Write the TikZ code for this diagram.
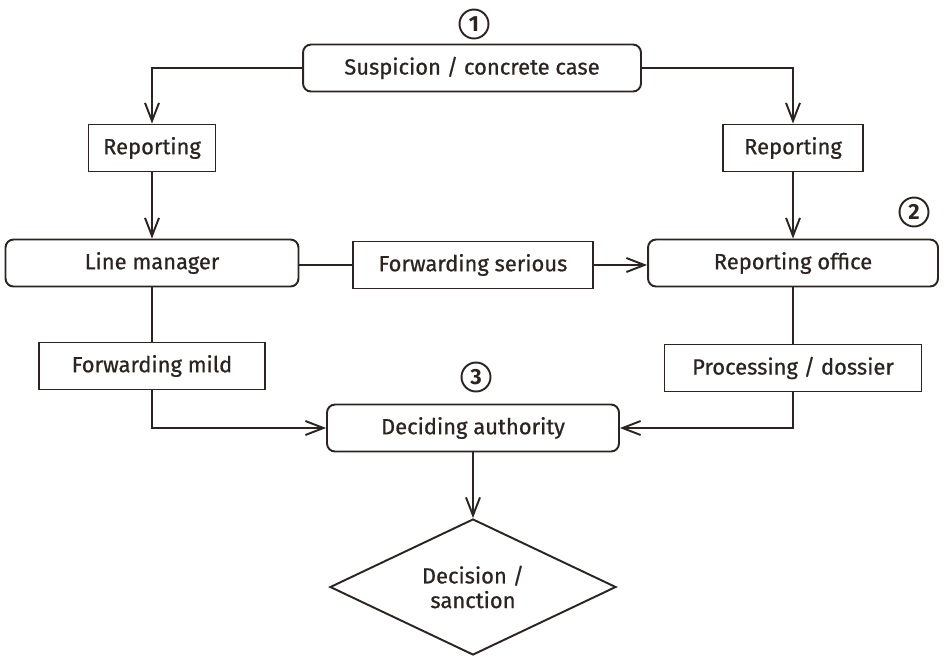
\documentclass[tikz,border=0pt]{standalone}
\usepackage{fontspec}
\setmainfont{Fira Sans}[UprightFeatures={FakeBold=0.7}]
\usepackage{tikz}
\usetikzlibrary{shapes.geometric,arrows.meta}
\definecolor{ink}{RGB}{43,36,33}

\begin{document}
\begin{tikzpicture}[x=0.02cm,y=-0.02cm,
	every node/.style={font=\fontsize{12.5}{14}\selectfont,text=ink},
	box/.style={draw=ink,line width=1.1pt,inner sep=0pt,minimum height=0.94cm},
	rbox/.style={box,rounded corners=0.16cm},
	num/.style={draw=ink,circle,line width=1.1pt,inner sep=0pt,minimum size=0.58cm,font=\fontsize{12.5}{14}\selectfont\bfseries},
	dia/.style={draw=ink,diamond,line width=1.1pt,inner sep=0pt,aspect=2.1,minimum width=5.72cm,minimum height=2.72cm,align=center},
	lin/.style={draw=ink,line width=1.1pt},
	arr/.style={lin,-{Straight Barb[length=0.36cm,width=0.28cm]}}]
				\useasboundingbox (0,0) rectangle (944,657);
				
				\node[num] (n1) at (474,24) {1};
				\node[rbox,minimum width=6.76cm] (susp) at (472,68) {Suspicion / concrete case};
				
				\node[box,minimum width=2.54cm] (repL) at (152,148) {Reporting};
				\node[box,minimum width=2.8cm] (repR) at (793,148) {Reporting};
				
				\node[rbox,minimum width=5.86cm] (lineman) at (152,263) {Line manager};
				\node[box,minimum width=4.8cm] (fwdser) at (473,265) {Forwarding serious};
				\node[rbox,minimum width=5.8cm] (office) at (793,263) {Reporting office};
				\node[num] (n2) at (914,212) {2};
				
				\node[box,minimum width=4.52cm] (fwdmild) at (152,366) {Forwarding mild};
				\node[box,minimum width=5.14cm] (dossier) at (793,368) {Processing / dossier};
				
				\node[num] (n3) at (476,377) {3};
				\node[rbox,minimum width=5.84cm] (decide) at (473,428) {Deciding authority};
				\node[dia] (sanct) at (473,587) {Decision /\\sanction};
				
				\draw[arr] (susp.west) -| (repL.north);
				\draw[arr] (susp.east) -| (repR.north);
				\draw[arr] (repL) -- (lineman);
				\draw[arr] (repR) -- (office);
				
				\draw[lin] (lineman.east |- fwdser) -- (fwdser.west);
				\draw[arr] (fwdser.east) -- (office.west |- fwdser);
				
				\draw[lin] (lineman) -- (fwdmild);
				\draw[arr] (fwdmild.south) |- (decide.west);
				\draw[lin] (office) -- (dossier);
				\draw[arr] (dossier.south) |- (decide.east);
				
				\draw[arr] (decide) -- (sanct);
			\end{tikzpicture}
\end{document}
